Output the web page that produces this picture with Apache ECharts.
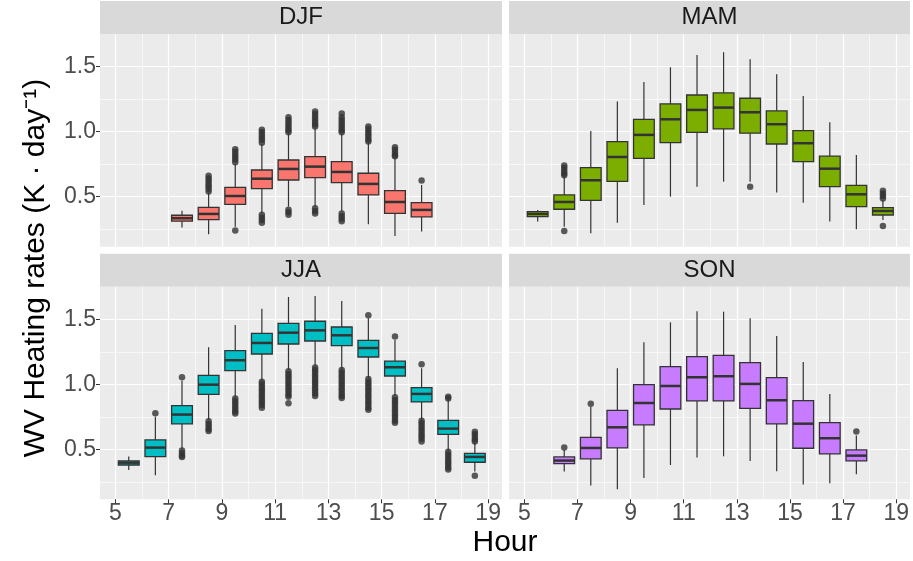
<!DOCTYPE html>
<html>
<head>
<meta charset="utf-8">
<script src="https://cdn.jsdelivr.net/npm/echarts@6/dist/echarts.min.js"></script>
<style>
  html, body { margin: 0; padding: 0; background: #fff; }
  #chart { width: 913px; height: 561px; }
</style>
</head>
<body>
<div id="chart"></div>
<script>
// rows: [hour, lower whisker, Q1, median, Q3, upper whisker]
const djfBoxes = [
  [7.5, 0.262, 0.311, 0.334, 0.357, 0.392],
  [8.5, 0.211, 0.323, 0.367, 0.418, 0.531],
  [9.5, 0.269, 0.441, 0.505, 0.572, 0.752],
  [10.5, 0.372, 0.562, 0.638, 0.705, 0.905],
  [11.5, 0.423, 0.628, 0.713, 0.782, 0.988],
  [12.5, 0.423, 0.646, 0.731, 0.808, 1.026],
  [13.5, 0.385, 0.608, 0.690, 0.769, 0.988],
  [14.5, 0.288, 0.513, 0.598, 0.680, 0.915],
  [15.5, 0.198, 0.372, 0.459, 0.546, 0.803],
  [16.5, 0.231, 0.344, 0.398, 0.454, 0.590]
]
const mamBoxes = [
  [5.5, 0.308, 0.346, 0.367, 0.385, 0.398],
  [6.5, 0.269, 0.403, 0.459, 0.513, 0.659],
  [7.5, 0.218, 0.472, 0.626, 0.723, 1.005],
  [8.5, 0.300, 0.618, 0.805, 0.923, 1.231],
  [9.5, 0.436, 0.795, 0.975, 1.095, 1.382],
  [10.5, 0.500, 0.915, 1.095, 1.213, 1.495],
  [11.5, 0.577, 0.995, 1.167, 1.282, 1.590],
  [12.5, 0.615, 1.021, 1.185, 1.298, 1.611],
  [13.5, 0.615, 0.988, 1.149, 1.257, 1.557],
  [14.5, 0.531, 0.905, 1.057, 1.159, 1.442],
  [15.5, 0.454, 0.769, 0.911, 1.008, 1.275],
  [16.5, 0.308, 0.577, 0.715, 0.811, 1.072],
  [17.5, 0.249, 0.423, 0.518, 0.587, 0.821],
  [18.5, 0.321, 0.359, 0.390, 0.415, 0.475]
]
const jjaBoxes = [
  [5.5, 0.341, 0.379, 0.397, 0.410, 0.444],
  [6.5, 0.300, 0.444, 0.513, 0.572, 0.751],
  [7.5, 0.500, 0.695, 0.767, 0.836, 1.028],
  [8.5, 0.726, 0.923, 0.997, 1.069, 1.285],
  [9.5, 0.897, 1.105, 1.185, 1.259, 1.456],
  [10.5, 1.026, 1.233, 1.318, 1.392, 1.582],
  [11.5, 1.110, 1.310, 1.397, 1.469, 1.672],
  [12.5, 1.136, 1.333, 1.415, 1.485, 1.679],
  [13.5, 1.115, 1.297, 1.377, 1.441, 1.641],
  [14.5, 1.046, 1.210, 1.279, 1.338, 1.508],
  [15.5, 0.913, 1.064, 1.131, 1.179, 1.341],
  [16.5, 0.726, 0.864, 0.926, 0.974, 1.123],
  [17.5, 0.487, 0.615, 0.659, 0.723, 0.879],
  [18.5, 0.328, 0.400, 0.441, 0.469, 0.551]
]
const sonBoxes = [
  [6.5, 0.328, 0.390, 0.413, 0.441, 0.495],
  [7.5, 0.221, 0.426, 0.510, 0.592, 0.828],
  [8.5, 0.192, 0.510, 0.669, 0.800, 1.123],
  [9.5, 0.279, 0.687, 0.856, 0.997, 1.323],
  [10.5, 0.379, 0.810, 0.987, 1.136, 1.477],
  [11.5, 0.436, 0.872, 1.054, 1.213, 1.562],
  [12.5, 0.446, 0.872, 1.062, 1.223, 1.559],
  [13.5, 0.410, 0.815, 1.003, 1.167, 1.508],
  [14.5, 0.331, 0.695, 0.877, 1.051, 1.372],
  [15.5, 0.228, 0.508, 0.697, 0.874, 1.172],
  [16.5, 0.238, 0.464, 0.585, 0.705, 0.926],
  [17.5, 0.308, 0.410, 0.451, 0.495, 0.605]
]

// outliers: [hour, value]
const djfOutliers = [
  [8.5, 0.66], [8.5, 0.64], [8.5, 0.62], [8.5, 0.60], [8.5, 0.58], [8.5, 0.56], [8.5, 0.54],
  [9.5, 0.865], [9.5, 0.845], [9.5, 0.825], [9.5, 0.805], [9.5, 0.785], [9.5, 0.765], [9.5, 0.24],
  [10.5, 1.015], [10.5, 0.995], [10.5, 0.975], [10.5, 0.955], [10.5, 0.935], [10.5, 0.915],
  [10.5, 0.36], [10.5, 0.34], [10.5, 0.32], [10.5, 0.30],
  [11.5, 1.11], [11.5, 1.09], [11.5, 1.07], [11.5, 1.05], [11.5, 1.03], [11.5, 1.01], [11.5, 0.995],
  [11.5, 0.40], [11.5, 0.38], [11.5, 0.36],
  [12.5, 1.155], [12.5, 1.135], [12.5, 1.115], [12.5, 1.095], [12.5, 1.075], [12.5, 1.055], [12.5, 1.04],
  [12.5, 0.41], [12.5, 0.39], [12.5, 0.37],
  [13.5, 1.14], [13.5, 1.11], [13.5, 1.09], [13.5, 1.07], [13.5, 1.05], [13.5, 1.03], [13.5, 1.01], [13.5, 0.995],
  [13.5, 0.37], [13.5, 0.35], [13.5, 0.33], [13.5, 0.31],
  [14.5, 1.04], [14.5, 1.02], [14.5, 1.00], [14.5, 0.98], [14.5, 0.96], [14.5, 0.94], [14.5, 0.925],
  [15.5, 0.88], [15.5, 0.86], [15.5, 0.84], [15.5, 0.82], [15.5, 0.81],
  [16.5, 0.625]
]
const mamOutliers = [
  [6.5, 0.74], [6.5, 0.72], [6.5, 0.70], [6.5, 0.68], [6.5, 0.665], [6.5, 0.236],
  [13.5, 0.577],
  [18.5, 0.545], [18.5, 0.525], [18.5, 0.505], [18.5, 0.485], [18.5, 0.275]
]
const jjaOutliers = [
  [6.5, 0.777],
  [7.5, 1.054], [7.5, 0.49], [7.5, 0.47], [7.5, 0.45], [7.5, 0.44],
  [8.5, 0.715], [8.5, 0.695], [8.5, 0.675], [8.5, 0.655], [8.5, 0.64],
  [9.5, 0.89], [9.5, 0.87], [9.5, 0.85], [9.5, 0.83], [9.5, 0.81], [9.5, 0.79], [9.5, 0.775],
  [10.5, 1.02], [10.5, 1.00], [10.5, 0.98], [10.5, 0.96], [10.5, 0.94], [10.5, 0.92],
  [10.5, 0.90], [10.5, 0.88], [10.5, 0.86], [10.5, 0.84], [10.5, 0.82],
  [11.5, 1.10], [11.5, 1.08], [11.5, 1.06], [11.5, 1.04], [11.5, 1.02], [11.5, 1.00],
  [11.5, 0.98], [11.5, 0.96], [11.5, 0.94], [11.5, 0.92], [11.5, 0.905], [11.5, 0.855],
  [12.5, 1.13], [12.5, 1.11], [12.5, 1.09], [12.5, 1.07], [12.5, 1.05], [12.5, 1.03],
  [12.5, 1.01], [12.5, 0.99], [12.5, 0.97], [12.5, 0.95], [12.5, 0.93], [12.5, 0.91],
  [13.5, 1.11], [13.5, 1.09], [13.5, 1.07], [13.5, 1.05], [13.5, 1.03], [13.5, 1.01],
  [13.5, 0.99], [13.5, 0.97], [13.5, 0.95], [13.5, 0.93], [13.5, 0.91], [13.5, 0.895],
  [14.5, 1.531], [14.5, 1.04], [14.5, 1.02], [14.5, 1.00], [14.5, 0.98], [14.5, 0.96], [14.5, 0.94],
  [14.5, 0.92], [14.5, 0.90], [14.5, 0.88], [14.5, 0.86], [14.5, 0.84], [14.5, 0.82], [14.5, 0.805],
  [15.5, 1.367], [15.5, 0.90], [15.5, 0.88], [15.5, 0.86], [15.5, 0.84], [15.5, 0.82], [15.5, 0.80],
  [15.5, 0.78], [15.5, 0.76], [15.5, 0.74], [15.5, 0.72], [15.5, 0.705],
  [16.5, 1.154], [16.5, 0.72], [16.5, 0.70], [16.5, 0.68], [16.5, 0.66], [16.5, 0.64],
  [16.5, 0.62], [16.5, 0.60], [16.5, 0.58], [16.5, 0.56],
  [17.5, 0.905], [17.5, 0.89], [17.5, 0.48], [17.5, 0.46], [17.5, 0.44], [17.5, 0.42],
  [17.5, 0.40], [17.5, 0.38], [17.5, 0.36], [17.5, 0.345],
  [18.5, 0.635], [18.5, 0.615], [18.5, 0.595], [18.5, 0.575], [18.5, 0.56], [18.5, 0.297]
]
const sonOutliers = [
  [6.5, 0.513], [7.5, 0.851], [17.5, 0.636]
]

const seasons = ['DJF', 'MAM', 'JJA', 'SON']
const fills = ['#F8766D', '#7CAE00', '#00BFC4', '#C77CFF']
const boxes = [djfBoxes, mamBoxes, jjaBoxes, sonBoxes]
const outliers = [djfOutliers, mamOutliers, jjaOutliers, sonOutliers]

const xMajor = [5, 7, 9, 11, 13, 15, 17, 19]
const xMinor = [6, 8, 10, 12, 14, 16, 18]
const yMajor = [0.5, 1.0, 1.5]
const yMinor = [0.25, 0.75, 1.25]

const FONT = '"Liberation Sans", Arial, Helvetica, sans-serif'
const BOX_WIDTH = 0.78

const panels = [
  { left: 100, top: 34, width: 402, height: 212.7 },
  { left: 509, top: 34, width: 401, height: 212.7 },
  { left: 100, top: 286.7, width: 402, height: 212.6 },
  { left: 509, top: 286.7, width: 401, height: 212.6 }
]

const chart = echarts.init(document.getElementById('chart'))

function renderBox(fill) {
  return function (params, api) {
    const x = api.value(0)
    const lo = api.coord([x, api.value(1)])
    const q1 = api.coord([x, api.value(2)])
    const md = api.coord([x, api.value(3)])
    const q3 = api.coord([x, api.value(4)])
    const hi = api.coord([x, api.value(5)])
    const half = api.size([BOX_WIDTH, 0])[0] / 2
    const cx = md[0]
    const lineStyle = { stroke: '#333333', lineWidth: 1.2 }
    return {
      type: 'group',
      children: [
        { type: 'line', shape: { x1: cx, y1: hi[1], x2: cx, y2: q3[1] }, style: lineStyle },
        { type: 'line', shape: { x1: cx, y1: q1[1], x2: cx, y2: lo[1] }, style: lineStyle },
        {
          type: 'rect',
          shape: { x: cx - half, y: q3[1], width: half * 2, height: q1[1] - q3[1] },
          style: { fill: fill, stroke: '#333333', lineWidth: 1.3 }
        },
        {
          type: 'line',
          shape: { x1: cx - half, y1: md[1], x2: cx + half, y2: md[1] },
          style: { stroke: '#333333', lineWidth: 2.5 }
        }
      ]
    }
  }
}

const grids = []
const xAxes = []
const yAxes = []
const series = []
const graphics = []

panels.forEach(function (p, i) {
  const bottomRow = i >= 2
  const leftCol = i % 2 === 0
  grids.push({ left: p.left, top: p.top, width: p.width, height: p.height, show: true, backgroundColor: '#EBEBEB', borderWidth: 0 })

  xAxes.push({
    type: 'value', gridIndex: i, min: 4.42, max: 19.52, position: 'bottom',
    axisLine: { show: false },
    axisTick: { show: bottomRow, customValues: xMajor, length: 4, lineStyle: { color: '#333333', width: 1 } },
    axisLabel: { show: bottomRow, customValues: xMajor, color: '#4D4D4D', fontSize: 23, fontFamily: FONT, margin: 3 },
    splitLine: { show: true, lineStyle: { color: '#FFFFFF', width: 1.2 } }
  })
  xAxes.push({
    type: 'value', gridIndex: i, min: 4.42, max: 19.52, position: 'bottom',
    axisLine: { show: false },
    axisTick: { show: false, customValues: xMinor },
    axisLabel: { show: false, customValues: xMinor },
    splitLine: { show: true, lineStyle: { color: '#FFFFFF', width: 0.6 } }
  })
  yAxes.push({
    type: 'value', gridIndex: i, min: 0.115, max: 1.751, position: 'left',
    axisLine: { show: false },
    axisTick: { show: leftCol, customValues: yMajor, length: 4, lineStyle: { color: '#333333', width: 1 } },
    axisLabel: {
      show: leftCol, customValues: yMajor, color: '#4D4D4D', fontSize: 23, fontFamily: FONT, margin: 4,
      formatter: function (v) { return v.toFixed(1) }
    },
    splitLine: { show: true, lineStyle: { color: '#FFFFFF', width: 1.2 } }
  })
  yAxes.push({
    type: 'value', gridIndex: i, min: 0.115, max: 1.751, position: 'left',
    axisLine: { show: false },
    axisTick: { show: false, customValues: yMinor },
    axisLabel: { show: false, customValues: yMinor },
    splitLine: { show: true, lineStyle: { color: '#FFFFFF', width: 0.6 } }
  })

  series.push({
    type: 'custom',
    xAxisIndex: 2 * i,
    yAxisIndex: 2 * i,
    renderItem: renderBox(fills[i]),
    encode: { x: 0, y: [1, 2, 3, 4, 5] },
    data: boxes[i],
    z: 3
  })
  series.push({
    type: 'scatter',
    xAxisIndex: 2 * i,
    yAxisIndex: 2 * i,
    symbolSize: 6.5,
    itemStyle: { color: '#333333' },
    data: outliers[i],
    z: 4
  })

  // facet strip
  graphics.push({
    type: 'rect',
    shape: { x: p.left, y: p.top - 33, width: p.width, height: 33 },
    style: { fill: '#D9D9D9' }
  })
  graphics.push({
    type: 'text',
    x: p.left + p.width / 2,
    y: p.top - 16.5,
    style: { text: seasons[i], fill: '#1A1A1A', font: '24px ' + FONT, textAlign: 'center', textVerticalAlign: 'middle' }
  })
})

graphics.push({
  type: 'text',
  x: 505,
  y: 543,
  style: { text: 'Hour', fill: '#000000', font: '30px ' + FONT, textAlign: 'center', textVerticalAlign: 'middle' }
})
graphics.push({
  type: 'text',
  x: 36,
  y: 268,
  rotation: Math.PI / 2,
  style: { text: 'WV Heating rates (K \u00B7 day\u207B\u00B9)', fill: '#000000', font: '30px ' + FONT, textAlign: 'center', textVerticalAlign: 'middle' }
})

chart.setOption({
  animation: false,
  backgroundColor: '#FFFFFF',
  grid: grids,
  xAxis: xAxes,
  yAxis: yAxes,
  series: series,
  graphic: graphics
})
</script>
</body>
</html>
